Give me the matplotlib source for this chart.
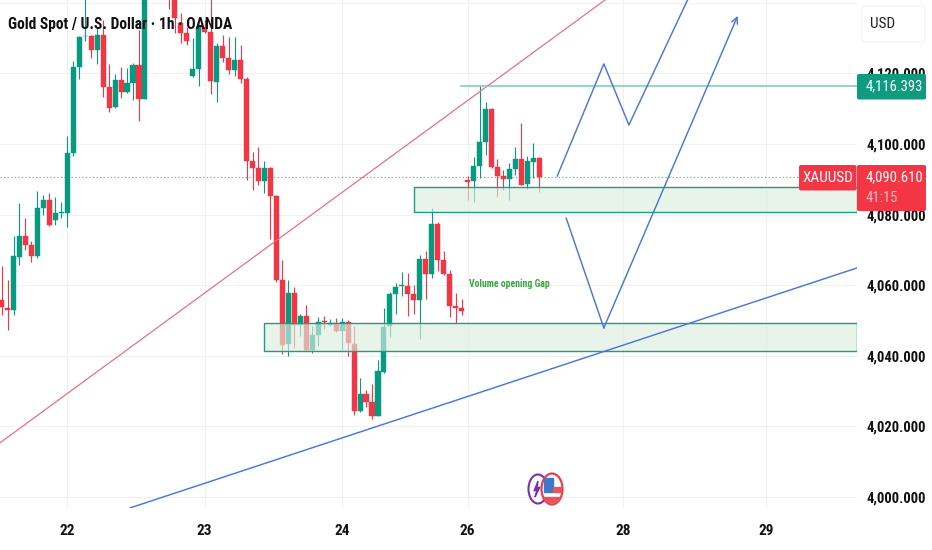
import matplotlib
matplotlib.use("Agg")
import matplotlib.pyplot as plt
from matplotlib.patches import FancyBboxPatch, Ellipse, Rectangle, Polygon

# candle data, first bar is index -11 (day 22 starts at bar 0)
first_bar = -11
nan = float("nan")
opens = [4055.8, 4053.5, 4053.0, 4068.1, 4074.0, 4071.3, 4068.4, 4081.9, 4084.1, 4078.5, 4080.5,
         4080.4, 4097.4, 4121.7, 4130.5, 4130.6, 4126.6, 4131.0, 4116.2, 4110.4, 4118.1, 4114.6, 4117.2, 4122.5, 4112.8,
         nan, nan, nan, 4148.0, 4146.0, 4134.2, 4131.5, 4119.3, 4121.3, 4133.2, 4131.7, 4117.7, 4127.8, 4124.5, 4121.0, 4123.8,
         4118.3, 4095.2, 4093.3, 4089.6, 4093.3, 4085.4, 4061.5, 4043.3, 4057.9, 4048.7, 4051.3, 4041.5, 4045.8, 4049.8, 4048.7, 4049.4,
         4047.1, 4049.7, 4043.3, 4024.4, 4029.2, 4026.8, 4023.0, 4035.4, 4048.3, 4057.4, 4059.9, 4059.9, 4057.5, 4055.8, 4067.5, 4063.1,
         4077.3, 4067.0, 4063.2, 4054.2, 4053.5, 4089.8, 4089.5, 4093.8, 4100.7, 4109.9, 4093.4, 4090.8, 4090.1, 4093.0, 4095.7, 4088.7, 4094.8, 4096.0]
highs = [4065.3, 4061.5, 4074.0, 4083.2, 4078.9, 4072.6, 4086.8, 4085.6, 4086.2, 4085.1, 4083.7,
         4102.3, 4123.5, 4130.6, 4141.7, 4130.9, 4132.8, 4135.1, 4122.7, 4119.8, 4121.9, 4121.4, 4122.9, 4132.3, 4146.0,
         nan, nan, nan, 4150.0, 4148.0, 4137.0, 4133.2, 4129.9, 4133.2, 4135.1, 4141.5, 4128.7, 4130.9, 4130.2, 4130.2, 4128.1,
         4119.1, 4097.6, 4099.2, 4095.3, 4093.5, 4085.6, 4067.1, 4061.5, 4059.4, 4051.8, 4054.4, 4048.3, 4050.9, 4051.3, 4050.3, 4050.6,
         4050.6, 4050.0, 4048.4, 4033.6, 4030.3, 4032.0, 4038.8, 4053.5, 4058.2, 4060.5, 4063.7, 4063.4, 4060.0, 4068.5, 4069.8, 4081.8,
         4077.9, 4069.8, 4064.3, 4057.7, 4056.1, 4090.9, 4096.2, 4116.4, 4112.0, 4110.1, 4095.7, 4092.6, 4094.7, 4099.1, 4106.0, 4096.6, 4100.2, 4096.2]
lows = [4051.6, 4047.3, 4051.6, 4065.7, 4070.0, 4066.7, 4067.6, 4079.9, 4076.8, 4077.1, 4079.1,
        4076.6, 4096.6, 4118.5, 4129.3, 4124.5, 4122.7, 4113.2, 4109.2, 4110.3, 4113.1, 4114.5, 4112.5, 4106.6, 4112.8,
        nan, nan, nan, 4138.2, 4131.5, 4128.7, 4128.1, 4119.1, 4116.4, 4131.4, 4114.1, 4112.0, 4123.3, 4119.8, 4119.3, 4117.2,
        4089.8, 4087.0, 4088.4, 4086.0, 4073.0, 4061.0, 4040.5, 4040.0, 4042.3, 4045.7, 4041.4, 4040.7, 4042.9, 4047.6, 4048.4, 4046.8,
        4041.5, 4039.9, 4023.1, 4024.2, 4025.6, 4022.0, 4023.0, 4035.2, 4045.2, 4051.8, 4057.0, 4051.3, 4051.8, 4044.7, 4056.0, 4062.0,
        4064.1, 4063.0, 4051.1, 4049.4, 4051.6, 4084.0, 4083.6, 4090.5, 4096.9, 4093.3, 4085.1, 4087.0, 4084.1, 4091.2, 4088.4, 4087.2, 4090.3, 4086.5]
closes = [4053.9, 4053.0, 4068.3, 4074.0, 4071.3, 4068.4, 4081.9, 4084.1, 4077.0, 4080.4, 4080.7,
          4097.4, 4121.9, 4130.4, 4130.7, 4126.6, 4131.0, 4116.2, 4110.3, 4118.1, 4114.6, 4117.2, 4122.5, 4112.8, 4143.6,
          nan, nan, nan, 4143.0, 4135.6, 4131.5, 4129.3, 4121.2, 4133.2, 4131.7, 4117.8, 4127.8, 4124.3, 4121.0, 4123.8, 4118.3,
          4095.2, 4093.1, 4089.6, 4093.3, 4085.4, 4061.5, 4043.1, 4057.7, 4048.7, 4051.3, 4041.5, 4045.9, 4049.5, 4049.6, 4049.4, 4047.0,
          4049.6, 4043.5, 4024.5, 4029.2, 4026.8, 4023.0, 4035.6, 4048.2, 4057.4, 4059.6, 4060.0, 4057.5, 4055.8, 4067.5, 4063.1, 4077.3,
          4067.0, 4063.2, 4054.2, 4053.5, 4052.7, 4089.3, 4093.8, 4100.7, 4109.9, 4093.4, 4090.8, 4090.1, 4093.0, 4095.7, 4088.5, 4095.1, 4096.0, 4090.6]

y_ticks = [4000, 4020, 4040, 4060, 4080, 4100, 4120, 4140]
y_labels = ["4,000.000", "4,020.000", "4,040.000", "4,060.000", "4,080.000", "4,100.000", "4,120.000", ""]
day_ticks = [0, 23, 46, 67, 93, 117]
day_labels = ["22", "23", "24", "26", "28", "29"]

last_price = 4090.61
high_level = 4116.393

# drawings on the chart, as (bar, price)
red_trend_x = [-11.3, 90]
red_trend_y = [4015.3, 4140.8]
blue_trend_x = [10.5, 132.2]
blue_trend_y = [3996.9, 4064.9]
path1_x = [82.0, 89.8, 94.0, 104.2]
path1_y = [4090.9, 4122.7, 4105.4, 4142.2]
path2_x = [83.5, 89.8, 112.2]
path2_y = [4079.0, 4047.9, 4136.3]
zone_upper = (58.0, 4080.65, 4087.8)
zone_lower = (33.0, 4041.4, 4049.2)

GREEN = "#089981"
RED = "#f23645"
BLUE = "#4a78d8"
NARROW = ["Roboto Condensed", "Roboto", "DejaVu Sans"]

plt.rcParams["font.family"] = NARROW

fig = plt.figure(figsize=(9.32, 5.5), dpi=100)
ax = fig.add_axes([0, 42 / 550, 857 / 932, 508 / 550])
ax.set_xlim(-11.26, 132.17)
ax.set_ylim(3996.88, 4140.79)

for s in ax.spines.values():
    s.set_visible(False)
ax.grid(True, color="#f1f1f1", lw=0.8)
ax.set_axisbelow(True)
ax.yaxis.tick_right()
ax.set_yticks(y_ticks)
ax.set_yticklabels(y_labels, fontsize=10.5, fontweight="bold", color="#111111")
ax.set_xticks(day_ticks)
ax.set_xticklabels(day_labels, fontsize=11, fontweight="bold", color="#111111")
ax.tick_params(axis="y", length=0, pad=6.5)
ax.tick_params(axis="x", length=0, pad=11.5)

ax.axhline(last_price, color=RED, lw=0.8, ls=(0, (1, 2.2)), alpha=0.8, zorder=1)

for i in range(len(opens)):
    if opens[i] != opens[i]:
        continue
    bar_x = first_bar + i
    c = GREEN if closes[i] >= opens[i] else RED
    ax.vlines(bar_x, lows[i], highs[i], color=c, lw=0.8, zorder=2)
    bottom = min(opens[i], closes[i])
    h = abs(closes[i] - opens[i])
    ax.bar(bar_x, h, bottom=bottom, width=0.85, color=c, linewidth=0.3, edgecolor=c, zorder=3)

ax.plot(red_trend_x, red_trend_y, color="#ec6a7c", lw=0.85, zorder=4)
ax.plot([65.9, 132.2], [high_level, high_level], color="#7cc9b6", lw=1.1, zorder=4)

for left, low, high in [zone_upper, zone_lower]:
    ax.add_patch(Rectangle((left, low), 132.2 - left, high - low,
                           facecolor=(220 / 255, 239 / 255, 224 / 255, 0.65),
                           edgecolor="#1f9c85", lw=1.0, zorder=5))

ax.plot(blue_trend_x, blue_trend_y, color=BLUE, lw=1.05, zorder=6)
ax.plot(path1_x, path1_y, color=BLUE, lw=1.05, zorder=6)
ax.plot(path2_x[:2], path2_y[:2], color=BLUE, lw=1.05, zorder=6)
ax.annotate("", xy=(path2_x[2], path2_y[2]), xytext=(path2_x[1], path2_y[1]), zorder=6,
            arrowprops=dict(arrowstyle="->", color=BLUE, lw=1.05, mutation_scale=11, shrinkA=0, shrinkB=0))

ax.text(67.3, 4060.2, "Volume opening Gap", color="#3aa63f", fontsize=7, fontweight="bold",
        va="center", ha="left", zorder=7)

# overlay in pixels for the price tags, header and logo
ov = fig.add_axes([0, 0, 1, 1])
ov.set_xlim(0, 932)
ov.set_ylim(550, 0)
ov.axis("off")


def tag(x0, y0, x1, y1, color):
    ov.add_patch(FancyBboxPatch((x0 + 1.5, y0 + 1.5), x1 - x0 - 3, y1 - y0 - 3, boxstyle="round,pad=1.5,rounding_size=2",
                                facecolor=color, edgecolor="none"))


ov.text(8, 24, "Gold Spot / U.S. Dollar · 1h · OANDA", fontsize=11.2, fontweight="bold", color="#111111",
        va="center", ha="left")

ov.add_patch(FancyBboxPatch((864, 8), 59, 32, boxstyle="round,pad=2,rounding_size=4",
                            facecolor="white", edgecolor="#f6f6f6", lw=1))
ov.text(870, 24, "USD", fontsize=11, color="#222222", va="center", ha="left")

tag(857, 74, 926, 99.5, "#0e9b80")
ov.text(866, 86.5, f"{high_level:,.3f}", fontsize=10.5, color="white", va="center", ha="left")
tag(857, 165, 926, 211, RED)
ov.text(866, 177, f"{last_price:,.3f}", fontsize=10.5, color="white", va="center", ha="left")
ov.text(866, 198, "41:15", fontsize=10.5, color="#fbbcc3", va="center", ha="left")
tag(799, 165, 856.5, 190.5, RED)
ov.text(827.5, 178, "XAUUSD", fontsize=11, color="white", va="center", ha="center")

# logo
ring = Ellipse((552, 489), 21, 31, facecolor="white", edgecolor="#e6404c", lw=1.6, zorder=3)
ov.add_patch(Ellipse((538, 489), 19, 29, facecolor="white", edgecolor="#7d32a8", lw=1.5, zorder=2))
ov.add_patch(ring)
ov.add_patch(Polygon([(538, 481), (534, 491), (537, 490), (535, 497), (540, 487), (537, 488)], color="#7d32a8", zorder=2))
for patch in [Rectangle((544, 478), 9, 14, color="#3f78c8", zorder=4),
              Rectangle((553, 486.5), 8, 5, color="#e6545c", zorder=4),
              Rectangle((543, 496.5), 17, 5, color="#e6545c", zorder=4)]:
    ov.add_patch(patch)
    patch.set_clip_path(ring)

fig.savefig("out.png", dpi=100)
